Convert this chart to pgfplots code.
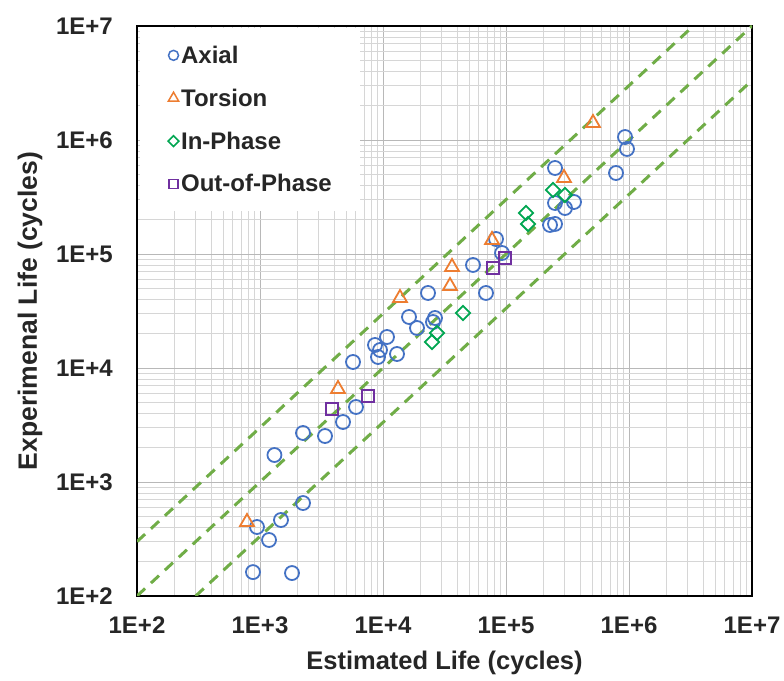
\documentclass[border=0pt]{standalone}
\usepackage{fontspec}
\setmainfont{Liberation Sans}
\usepackage{pgfplots}
\pgfplotsset{compat=1.18}
\definecolor{cblue}{HTML}{4472C4}
\definecolor{corange}{HTML}{ED7D31}
\definecolor{cgreen}{HTML}{00A651}
\definecolor{cpurple}{HTML}{7030A0}
\definecolor{lgreen}{HTML}{70AD47}
\begin{document}
\begin{tikzpicture}[x=1pt,y=1pt]
\path[use as bounding box] (0,0) rectangle (784,680);
\begin{axis}[at={(137pt,84pt)}, anchor=south west, scale only axis,
  width=615pt, height=570pt,
  xmode=log, ymode=log, xmin=1e2, xmax=1e7, ymin=1e2, ymax=1e7,
  xtick={1e2,1e3,1e4,1e5,1e6,1e7}, ytick={1e2,1e3,1e4,1e5,1e6,1e7},
  minor xtick={2e2,3e2,4e2,5e2,6e2,7e2,8e2,9e2,2e3,3e3,4e3,5e3,6e3,7e3,8e3,9e3,2e4,3e4,4e4,5e4,6e4,7e4,8e4,9e4,2e5,3e5,4e5,5e5,6e5,7e5,8e5,9e5,2e6,3e6,4e6,5e6,6e6,7e6,8e6,9e6},
  minor ytick={2e2,3e2,4e2,5e2,6e2,7e2,8e2,9e2,2e3,3e3,4e3,5e3,6e3,7e3,8e3,9e3,2e4,3e4,4e4,5e4,6e4,7e4,8e4,9e4,2e5,3e5,4e5,5e5,6e5,7e5,8e5,9e5,2e6,3e6,4e6,5e6,6e6,7e6,8e6,9e6},
  xticklabels={1E+2,1E+3,1E+4,1E+5,1E+6,1E+7},
  yticklabels={1E+2,1E+3,1E+4,1E+5,1E+6,1E+7},
  /pgf/number format/assume math mode=true,
  grid=both,
  major grid style={black!28, line width=0.9pt},
  minor grid style={black!16, line width=0.8pt},
  major tick length=0pt, minor tick length=0pt,
  axis line style={line width=2.6pt, black},
  tick label style={font=\fontsize{24}{28}\selectfont\bfseries, text=black!85, inner sep=0pt},
  xticklabel style={anchor=north, yshift=-21pt},
  yticklabel style={anchor=east, xshift=-24pt},
  xlabel={Estimated Life (cycles)},
  ylabel={Experimenal Life (cycles)},
  xlabel style={at={(axis description cs:0.5,-0.1175)}, anchor=center, font=\fontsize{25.5}{29}\selectfont\bfseries, text=black!85},
  ylabel style={at={(axis description cs:-0.174,0.5)}, anchor=center, font=\fontsize{26.5}{30}\selectfont\bfseries, text=black!85},
  legend style={at={(0.004,0.997)}, anchor=north west, fill=white, draw=none,
    font=\fontsize{24}{28}\selectfont\bfseries, text=black!85,
    inner xsep=26pt, inner ysep=16pt, row sep=20pt},
  legend cell align=left,
  legend image post style={line width=1.5pt},
  legend image code/.code={\path (0cm,0cm) (0.42cm,0cm); \draw[#1] plot coordinates {(0.25cm,0cm)};},
]
\addplot[lgreen, line width=3pt, dash pattern=on 11pt off 8pt, forget plot] coordinates {(100,100) (1e7,1e7)};
\addplot[lgreen, line width=3pt, dash pattern=on 11pt off 8pt, forget plot] coordinates {(100,300) (3.333e6,1e7)};
\addplot[lgreen, line width=3pt, dash pattern=on 11pt off 8pt, forget plot] coordinates {(300,100) (1e7,3.333e6)};

\addplot[only marks, mark=o, mark size=7pt, cblue, line width=1.8pt,
  legend image post style={mark size=5pt}] coordinates {
(877,162) (1821,159) (945,403) (1184,310) (1481,464) (2237,654) (1310,1725)
(2237,2691) (3377,2532) (4729,3360) (6033,4550) (5704,11290) (8610,15920)
(9455,14380) (9106,12490) (10778,18710) (12997,13270) (16272,28020)
(18898,22430) (23226,45500) (26473,27450) (25498,25320) (53911,80100)
(68771,45500) (82915,135400) (92800,102000) (227900,179700) (250300,568200)
(250300,280200) (301800,253200) (357100,285900) (250300,183400)
(784200,513400) (928000,1062000) (963000,834000)};
\addlegendentry{Axial}
\addplot[only marks, mark=triangle, mark size=8pt, corange, line width=1.8pt,
  legend image post style={mark size=6pt}] coordinates {
(784,446) (4306,6544) (13745,41110) (35054,52400) (36392,76900)
(76946,132700) (296100,464200) (509700,1410000)};
\addlegendentry{Torsion}
\addplot[only marks, mark=square, mark options={rotate=45}, mark size=5pt, cgreen, line width=1.8pt,
  legend image post style={mark size=3.8pt}] coordinates {
(25025,16910) (27481,20280) (44713,30370) (145400,228900) (151000,183400)
(241100,364200) (301800,329300)};
\addlegendentry{In-Phase}
\addplot[only marks, mark=square, mark size=6pt, cpurple, line width=1.8pt,
  legend image post style={mark size=4.5pt}] coordinates {
(3849,4370) (7551,5682) (78400,75400) (98150,92200)};
\addlegendentry{Out-of-Phase}
\end{axis}
\end{tikzpicture}
\end{document}
